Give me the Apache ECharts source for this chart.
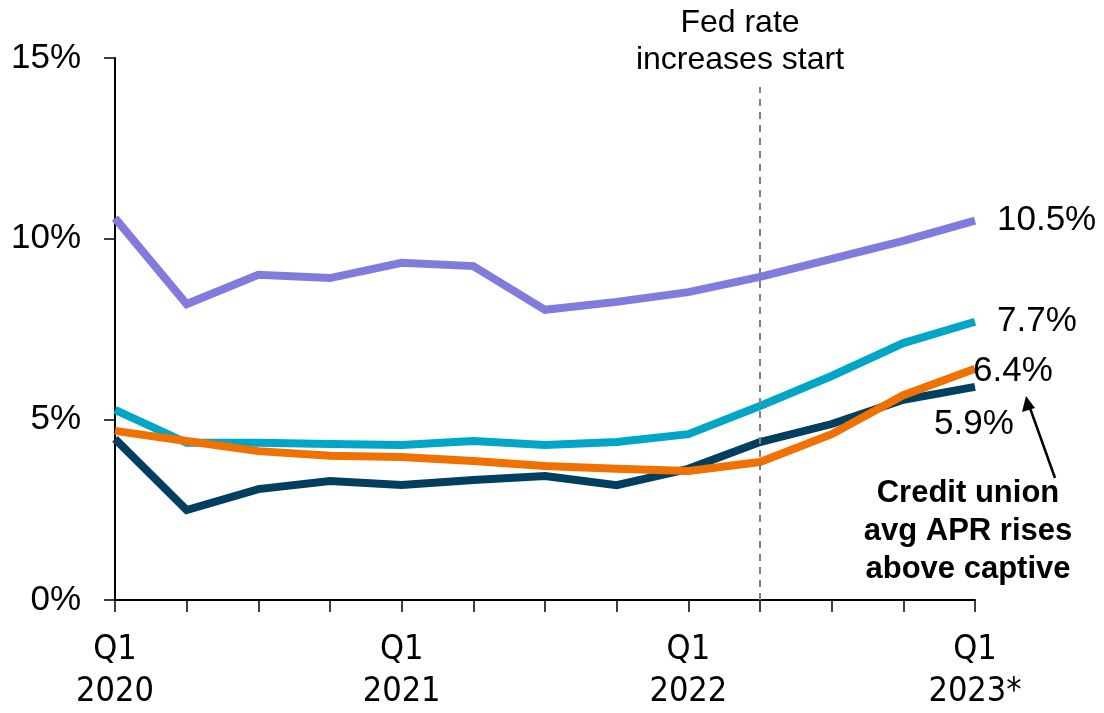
<!DOCTYPE html>
<html>
<head>
<meta charset="utf-8">
<script src="https://cdn.jsdelivr.net/npm/echarts@6/dist/echarts.min.js"></script>
<style>
html,body{margin:0;padding:0;background:#fff;}
#chart{width:1104px;height:713px;}
</style>
</head>
<body>
<div id="chart"></div>
<script>
var categories = ['Q1\n2020','Q2\n2020','Q3\n2020','Q4\n2020','Q1\n2021','Q2\n2021','Q3\n2021','Q4\n2021','Q1\n2022','Q2\n2022','Q3\n2022','Q4\n2022','Q1\n2023*'];
var purpleSeries = [10.57, 8.19, 9.0, 8.91, 9.33, 9.24, 8.03, 8.25, 8.52, 8.94, 9.44, 9.94, 10.5];
var tealSeries   = [5.26, 4.35, 4.35, 4.32, 4.29, 4.40, 4.29, 4.37, 4.59, 5.37, 6.2, 7.11, 7.7];
var navySeries   = [4.46, 2.49, 3.07, 3.29, 3.18, 3.32, 3.43, 3.18, 3.63, 4.37, 4.87, 5.54, 5.9];
var orangeSeries = [4.68, 4.40, 4.12, 3.99, 3.96, 3.85, 3.71, 3.63, 3.57, 3.82, 4.59, 5.67, 6.4];
var endLabels = ['10.5%', '7.7%', '5.9%', '6.4%'];
var yTicks = [0, 5, 10, 15];
var fedIndex = 9;

var chart = echarts.init(document.getElementById('chart'));
var FONT = "'Liberation Sans', Arial, sans-serif";
function lineSeries(name, data, color, label, offset) {
  return {
    name: name, type: 'line', data: data, symbol: 'none', smooth: false,
    lineStyle: {color: color, width: 8, cap: 'butt', join: 'miter'},
    itemStyle: {color: color},
    z: 3,
    endLabel: {
      show: true, formatter: function(){ return label; },
      fontFamily: FONT, fontSize: 35, color: '#000', distance: 22,
      offset: offset || [0, 0]
    }
  };
}
var series = [
  lineSeries('purple', purpleSeries, '#807BDC', endLabels[0], [0, 0]),
  lineSeries('teal', tealSeries, '#00A6C8', endLabels[1], [0, 0]),
  lineSeries('navy', navySeries, '#003F5F', endLabels[2], [-63, 38]),
  lineSeries('orange', orangeSeries, '#F07000', endLabels[3], [-24, 3])
];
series[0].markLine = {
  silent: true, symbol: ['none','none'],
  lineStyle: {color: '#808080', type: [7, 6], width: 2},
  label: {show: false},
  data: [[{coord: [fedIndex, 0]}, {coord: [fedIndex, 14.2]}]]
};

chart.setOption({
  animation: false,
  backgroundColor: '#fff',
  grid: {left: 115, right: 129, top: 58, bottom: 112, containLabel: false},
  xAxis: {
    type: 'category', data: categories, boundaryGap: false,
    axisLine: {lineStyle: {color: '#000', width: 2}},
    axisTick: {show: true, interval: 0, length: 12, lineStyle: {color: '#000', width: 1.5}},
    axisLabel: {
      interval: 3, margin: 29, fontFamily: "'Liberation Sans Narrow', 'DejaVu Sans Condensed', sans-serif",
      fontSize: 34, lineHeight: 42, color: '#000'
    },
    splitLine: {show: false}
  },
  yAxis: {
    type: 'value', min: yTicks[0], max: yTicks[yTicks.length-1], interval: 5,
    axisLine: {show: true, lineStyle: {color: '#000', width: 2}},
    axisTick: {show: true, length: 11, lineStyle: {color: '#000', width: 1.5}},
    axisLabel: {margin: 34, fontFamily: FONT, fontSize: 35, color: '#000', formatter: '{value}%'},
    splitLine: {show: false}
  },
  series: series,
  graphic: [
    {type: 'text', x: 740, y: 5, style: {
      text: 'Fed rate\nincreases start', textAlign: 'center', fontFamily: FONT,
      fontSize: 32, lineHeight: 37, fill: '#000'}},
    {type: 'text', x: 968, y: 474, style: {
      text: 'Credit union\navg APR rises\nabove captive', textAlign: 'center',
      fontFamily: FONT, fontWeight: 'bold', fontSize: 31, lineHeight: 38, fill: '#000'}},
    {type: 'line', shape: {x1: 1055, y1: 478, x2: 1030, y2: 408},
      style: {stroke: '#000', lineWidth: 2.5}},
    {type: 'polygon', shape: {points: [[1026, 396], [1022, 412], [1035, 408]]},
      style: {fill: '#000'}}
  ]
});
</script>
</body>
</html>
